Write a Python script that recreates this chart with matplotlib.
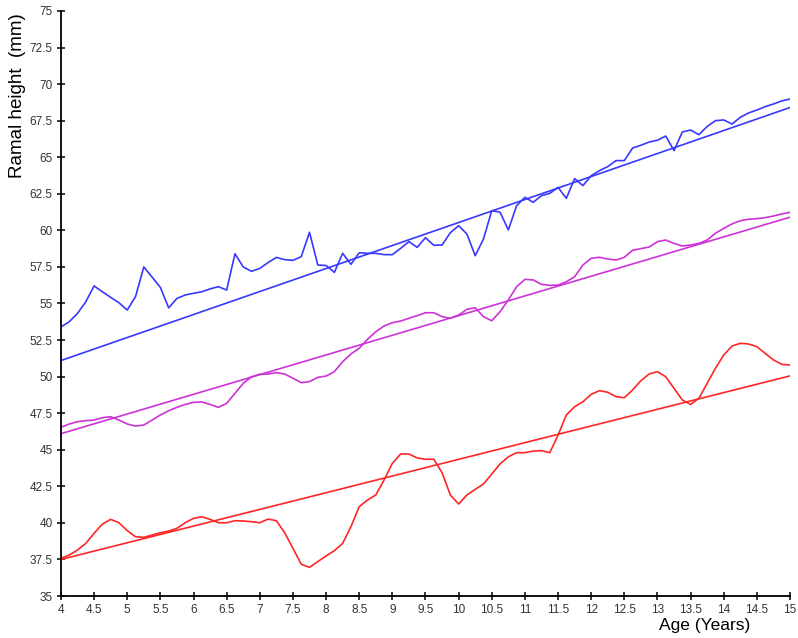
import numpy as np
import matplotlib
matplotlib.use("Agg")
from matplotlib import pyplot as plt

plt.rcParams['font.family'] = ['Liberation Sans', 'DejaVu Sans']

# ages sampled every 1/8 year from 4 to 15
age = np.arange(89) * 0.125 + 4.0

blue = [53.4, 53.75, 54.33, 55.12, 56.2, 55.8, 55.42, 55.05, 54.55, 55.47,
        57.5, 56.8, 56.1, 54.7, 55.35, 55.58, 55.7, 55.8, 56.0, 56.15,
        55.92, 58.4, 57.5, 57.2, 57.4, 57.8, 58.15, 58.0, 57.95, 58.2,
        59.87, 57.63, 57.6, 57.13, 58.43, 57.68, 58.47, 58.43, 58.43, 58.34,
        58.34, 58.77, 59.23, 58.84, 59.5, 58.98, 59.0, 59.84, 60.32, 59.75,
        58.27, 59.41, 61.35, 61.24, 60.03, 61.69, 62.26, 61.92, 62.37, 62.53,
        62.94, 62.19, 63.54, 63.06, 63.74, 64.08, 64.36, 64.77, 64.77, 65.63,
        65.82, 66.04, 66.16, 66.45, 65.45, 66.73, 66.86, 66.54, 67.11, 67.5,
        67.55, 67.27, 67.73, 68.03, 68.23, 68.46, 68.64, 68.85, 68.98]

magenta = [46.53, 46.76, 46.92, 46.99, 47.03, 47.19, 47.26, 47.03, 46.76, 46.62,
           46.69, 47.03, 47.38, 47.67, 47.9, 48.1, 48.24, 48.27, 48.1, 47.9,
           48.17, 48.86, 49.54, 49.99, 50.16, 50.18, 50.27, 50.18, 49.89, 49.59,
           49.66, 49.95, 50.04, 50.34, 51.02, 51.55, 51.94, 52.55, 53.07, 53.46,
           53.69, 53.8, 53.99, 54.17, 54.37, 54.37, 54.1, 53.99, 54.21, 54.6,
           54.71, 54.1, 53.82, 54.44, 55.24, 56.15, 56.65, 56.61, 56.31, 56.24,
           56.26, 56.49, 56.83, 57.63, 58.09, 58.16, 58.04, 57.97, 58.16, 58.64,
           58.75, 58.86, 59.23, 59.34, 59.11, 58.93, 59.0, 59.11, 59.34, 59.8,
           60.14, 60.44, 60.66, 60.76, 60.8, 60.87, 60.98, 61.12, 61.24]

red = [37.58, 37.8, 38.15, 38.6, 39.29, 39.92, 40.24, 40.01, 39.47, 39.05,
       39.01, 39.17, 39.33, 39.44, 39.63, 40.01, 40.31, 40.42, 40.24, 40.01,
       40.01, 40.15, 40.13, 40.08, 40.01, 40.26, 40.15, 39.33, 38.26, 37.17,
       36.96, 37.35, 37.74, 38.1, 38.6, 39.74, 41.11, 41.56, 41.91, 42.93,
       44.07, 44.71, 44.71, 44.44, 44.35, 44.35, 43.43, 41.91, 41.29, 41.91,
       42.29, 42.66, 43.34, 44.03, 44.52, 44.8, 44.8, 44.91, 44.94, 44.8,
       46.0, 47.38, 47.94, 48.28, 48.79, 49.04, 48.93, 48.63, 48.56, 49.09,
       49.72, 50.18, 50.34, 49.99, 49.2, 48.4, 48.1, 48.52, 49.54, 50.57,
       51.48, 52.09, 52.28, 52.23, 52.05, 51.59, 51.14, 50.84, 50.79]

# straight trend lines, values at age 4 and age 15
fit_x = [4, 15]
blue_fit = [51.1, 68.4]
magenta_fit = [46.1, 60.9]
red_fit = [37.5, 50.05]

c = ['#3838ff', '#cc33d6', '#ff2626']

fig = plt.figure(figsize=(7.98, 6.38), dpi=100)
ax = fig.add_axes([0.0764, 0.0658, 0.9136, 0.917])

for i, (y, yf) in enumerate([(blue, blue_fit), (magenta, magenta_fit), (red, red_fit)]):
    ax.plot(age, y, color=c[i], linewidth=1.2)
    ax.plot(fit_x, yf, color=c[i], linewidth=1.2)

ax.set_xlim(4, 15)
ax.set_ylim(35, 75)
ax.set_xticks(np.arange(4, 15.01, 0.5))
ax.set_xticklabels(['{:g}'.format(v) for v in np.arange(4, 15.01, 0.5)])
ax.set_yticks(np.arange(35, 75.01, 2.5))
ax.set_yticklabels(['{:g}'.format(v) for v in np.arange(35, 75.01, 2.5)])

for s in ['top', 'right']:
    ax.spines[s].set_visible(False)
for s in ['left', 'bottom']:
    ax.spines[s].set_linewidth(1.3)
ax.tick_params(direction='inout', length=6, width=1.1, labelsize=8.5,
               labelcolor='#333333', pad=3)

ax.set_ylabel('Ramal height  (mm)', fontsize=13.5)
ax.yaxis.set_label_coords(-0.048, 0.855)
ax.set_xlabel('Age (Years)', fontsize=12.5)
ax.xaxis.set_label_coords(0.883, -0.038)

plt.savefig('out.png', dpi=100)
